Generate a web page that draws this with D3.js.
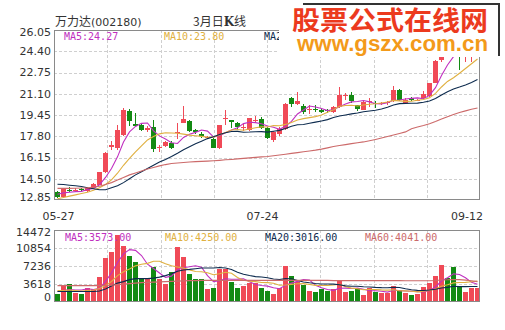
<!DOCTYPE html>
<html><head><meta charset="utf-8">
<script src="https://cdn.jsdelivr.net/npm/d3@7"></script>
<style>body{margin:0;background:#fff}svg{display:block}</style>
</head><body><svg id="c" width="505" height="330"></svg>
<script>
const title = "万力达";
const code = "(002180)";
const periodText = ["3月日", "K", "线"];
const opens  = [13.45,13.10,13.65,13.55,13.70,13.55,13.80,14.05,15.00,17.00,16.90,17.90,19.75,18.75,18.70,18.30,18.55,16.85,17.05,17.30,18.10,18.85,19.00,18.30,17.95,17.65,17.60,16.90,19.20,19.05,18.80,18.45,18.30,19.05,19.15,18.45,17.50,17.95,18.35,20.75,20.30,20.15,19.80,19.95,19.85,19.85,19.70,20.05,20.90,21.00,20.20,19.85,20.45,20.35,20.30,20.35,20.50,21.40,20.40,20.75,20.55,20.75,20.90,21.95,23.70,25.30,24.80,24.50,24.00,24.00,24.10];
const highs  = [13.55,13.80,13.85,13.80,13.80,13.85,14.20,15.05,16.60,17.40,18.70,20.00,19.90,19.60,18.80,18.60,19.10,17.10,17.45,17.45,18.80,20.15,19.10,18.40,18.10,17.85,17.70,18.70,19.80,19.10,18.90,18.80,19.25,19.40,19.30,18.50,18.20,18.50,20.35,20.85,21.25,20.30,20.20,20.20,20.00,19.95,20.15,21.60,21.15,21.20,20.25,20.50,20.80,20.50,20.45,20.55,21.70,21.45,20.75,20.85,20.70,21.35,21.95,23.70,25.90,25.60,25.10,24.70,24.60,24.50,24.70];
const lows   = [13.00,13.00,13.45,13.45,13.50,13.50,13.75,14.00,14.95,16.75,16.70,17.80,18.60,18.50,18.20,18.15,16.60,16.60,16.95,16.80,17.55,18.80,18.15,18.00,17.70,17.55,16.85,16.80,18.70,18.45,18.40,18.20,18.20,18.90,18.35,17.60,17.35,17.80,18.30,20.10,20.25,19.50,19.50,19.70,19.60,19.60,19.60,20.00,20.60,20.40,19.75,19.80,20.10,20.00,20.20,20.25,20.45,20.55,20.35,20.55,20.50,20.70,20.85,21.90,23.60,24.50,24.10,22.95,23.60,23.60,24.05];
const closes = [13.10,13.70,13.55,13.65,13.60,13.80,14.10,15.00,16.50,17.10,18.30,19.85,18.95,18.60,18.30,18.45,16.80,17.00,17.35,16.90,18.15,19.15,18.20,18.10,17.80,17.75,16.90,18.65,19.25,18.90,18.55,18.55,19.20,19.10,18.45,17.65,18.10,18.40,20.30,20.30,20.55,19.65,19.95,19.90,19.70,19.75,20.10,21.00,21.00,20.50,19.90,20.45,20.50,20.30,20.35,20.45,21.40,20.60,20.65,20.60,20.65,21.05,21.90,23.65,25.30,24.75,24.30,24.05,24.35,24.25,24.40];
const volumes = [1620,3450,3650,1760,1550,2900,2630,4940,8750,9970,13440,11260,9220,8000,4810,4670,6980,4670,3650,6030,11050,9020,5690,4610,4540,2630,2900,6640,6640,3990,2770,3250,3790,3790,2910,2230,1620,2770,7190,5150,3990,3450,2230,1960,2630,2290,2630,4270,2090,2290,2770,1410,2770,2090,1760,1890,3250,2430,1760,1410,1550,3040,3790,5300,7400,4810,6980,3110,2090,2770,2910];

const ma5Head  = [13.30,13.40,13.45,13.50];
const ma10Head = [12.95,13.05,13.15,13.25,13.35,13.45,13.60,13.80,14.05];
const ma20Head = [14.07,14.05,14.00,13.96,13.90,13.80,13.72,13.65,13.65,13.80,13.95,14.20,14.50,14.80,15.05,15.30,15.55,15.80,16.00];
const ma60Head = [13.75,13.75,13.75,13.76,13.78,13.80,13.85,13.92,14.05,14.20,14.40,14.60,14.80,14.95,15.10,15.25,15.38,15.50,15.60,15.68,15.72,15.76,15.80,15.83,15.85,15.87,15.90,15.93,15.97,16.00,16.04,16.08,16.12,16.16,16.20,16.23,16.28,16.34,16.40,16.47,16.53,16.60,16.66,16.72,16.80,16.90,17.00,17.08,17.15,17.23,17.30,17.36,17.45,17.55,17.66,17.78,17.90,18.02,18.14];
const vma5Head  = [2100,2300,2500,2400];
const vma10Head = [2300,2300,2400,2300,2200,2300,2400,2700,3300];
const vma20Head = [2100,2100,2100,2100,2100,2100,2100,2200,2600,3200,3800,4100,4500,4700,4700,4700,4800,5000,5300];
const vma60Head = [3300,3300,3300,3300,3300,3300,3300,3300,3350,3400,3500,3600,3700,3800,3900,3950,4000,4050,4100,4150,4200,4250,4300,4300,4350,4350,4350,4350,4350,4350,4350,4350,4350,4350,4350,4350,4350,4350,4350,4350,4350,4350,4350,4350,4350,4350,4300,4300,4300,4300,4300,4300,4300,4300,4300,4300,4300,4300,4280];

// the price MA20 legend is partly hidden and MA60 fully hidden behind the watermark in the reference
const priceMaText = ["MA5:24.27","MA10:23.80","MA20:22.20"];
const volMaText   = ["MA5:3573.00","MA10:4250.00","MA20:3016.00","MA60:4041.00"];
const maColors = ["#c030c0","#e0b040","#0d2b4e","#cc6a6a"];
const priceTicks = [26.05,24.40,22.75,21.10,19.45,17.80,16.15,14.50,12.85];
const volTicks = [14472,10854,7236,3618,0];
const dateLabels = ["05-27","07-24","09-12"];
const dateIdx = [0,34,70];
const wmTitle = "股票公式在线网";
const wmUrl = "www.gszx.com.cn";

const RED = "#f04a57", GREEN = "#138a13";
const L = 54, R = 480, PT = 30, PB = 200, VT = 230, VB = 302;
const svg = d3.select("#c");
const n = closes.length;
const x = d3.scaleBand().domain(d3.range(n)).range([L + 1, R + 1]);
const yP = d3.scaleLinear().domain([12.85, 26.05]).range([PB, PT]);
const yV = d3.scaleLinear().domain([0, 14472]).range([VB, VT]);
const cx = i => x(i) + 2.5;

function ma(data, p, head) {
  return data.map((d, i) => i < p - 1 ? head[i] : d3.mean(data.slice(i - p + 1, i + 1)));
}
const priceMA = [ma(closes,5,ma5Head), ma(closes,10,ma10Head), ma(closes,20,ma20Head), ma(closes,60,ma60Head)];
const volMA = [ma(volumes,5,vma5Head), ma(volumes,10,vma10Head), ma(volumes,20,vma20Head), ma(volumes,60,vma60Head)];

const defs = svg.append("defs");
defs.append("clipPath").attr("id","cp").append("rect").attr("x",L).attr("y",PT).attr("width",R-L).attr("height",PB-PT);
defs.append("clipPath").attr("id","cv").append("rect").attr("x",L).attr("y",VT).attr("width",R-L).attr("height",VB-VT);
defs.append("clipPath").attr("id","cl").append("rect").attr("x",0).attr("y",0).attr("width",279).attr("height",60);

// grid
const vgrid = d3.range(1, 8).map(k => L + k * (R - L) / 8);
function grid(top, bottom, ys) {
  const g = svg.append("g").attr("stroke","#cfcfcf").attr("stroke-dasharray","3,2").attr("shape-rendering","crispEdges");
  vgrid.forEach(v => g.append("line").attr("x1",Math.round(v)+0.5).attr("x2",Math.round(v)+0.5).attr("y1",top).attr("y2",bottom));
  ys.forEach(v => g.append("line").attr("x1",L).attr("x2",R).attr("y1",Math.round(v)+0.5).attr("y2",Math.round(v)+0.5));
}
grid(PT, PB, priceTicks.slice(1, -1).map(yP));
grid(VT, VB, volTicks.slice(1, -1).map(yV));

// y labels
const lab = svg.append("g").attr("font-family","DejaVu Sans, sans-serif").attr("font-size",11).attr("fill","#333").attr("text-anchor","end");
priceTicks.forEach(t => lab.append("text").attr("x",51).attr("y",Math.min(Math.max(yP(t),32),197)).attr("dy","0.35em").text(t.toFixed(2)));
volTicks.forEach(t => lab.append("text").attr("x",51).attr("y",Math.min(Math.max(yV(t),232),297)).attr("dy","0.35em").text(t));
// x labels
dateLabels.forEach((d, k) => {
  const i = dateIdx[k];
  const last = k === dateLabels.length - 1;
  svg.append("text").attr("x", last ? x(i) + 8 : cx(i) + 1).attr("y",220)
    .attr("text-anchor", last ? "end" : "middle").attr("font-family","DejaVu Sans, sans-serif").attr("font-size",11).attr("fill","#333").text(d);
});

// candles
const gc = svg.append("g").attr("clip-path","url(#cp)").attr("shape-rendering","crispEdges");
d3.range(n).forEach(i => {
  const up = closes[i] >= opens[i];
  const col = up ? RED : GREEN;
  gc.append("line").attr("x1",cx(i)).attr("x2",cx(i)).attr("y1",yP(highs[i])).attr("y2",yP(lows[i])).attr("stroke",col);
  const t = yP(Math.max(opens[i], closes[i])), b = yP(Math.min(opens[i], closes[i]));
  gc.append("rect").attr("x",x(i)).attr("y",t).attr("width",5).attr("height",Math.max(1,b-t)).attr("fill",col);
});
// volume bars
const gv = svg.append("g").attr("clip-path","url(#cv)").attr("shape-rendering","crispEdges");
d3.range(n).forEach(i => {
  const col = closes[i] >= opens[i] ? RED : GREEN;
  gv.append("rect").attr("x",x(i)).attr("y",yV(volumes[i])).attr("width",5).attr("height",VB - yV(volumes[i])).attr("fill",col);
});

// MA lines
const lp = d3.line().x((d,i) => cx(i)).y(d => yP(d));
const lv = d3.line().x((d,i) => cx(i)).y(d => yV(d));
priceMA.forEach((s, k) => svg.append("path").attr("clip-path","url(#cp)").attr("d", lp(s)).attr("fill","none").attr("stroke",maColors[k]).attr("stroke-width",1.1));
volMA.forEach((s, k) => svg.append("path").attr("clip-path","url(#cv)").attr("d", lv(s)).attr("fill","none").attr("stroke",maColors[k]).attr("stroke-width",1.1));

// borders
[[PT,PB],[VT,VB]].forEach(([t,b]) => svg.append("rect").attr("x",L+0.5).attr("y",t+0.5).attr("width",R-L-1).attr("height",b-t-1)
  .attr("fill","none").attr("stroke","#8a8a8a").attr("shape-rendering","crispEdges"));

// MA legends
const lg = svg.append("g").attr("font-family","DejaVu Sans Mono, monospace").attr("font-size",10);
priceMaText.forEach((t,k) => lg.append("text").attr("x",64 + k*100).attr("y",40).attr("fill",maColors[k])
  .attr("clip-path", k === 2 ? "url(#cl)" : null).text(k === 2 ? t.slice(0, 3) : t));
volMaText.forEach((t,k) => lg.append("text").attr("x",65 + k*100).attr("y",241).attr("fill",maColors[k]).text(t));

// title
const tt = svg.append("text").attr("x",55).attr("y",26).attr("fill","#333").attr("font-family","Noto Sans CJK SC, sans-serif").attr("font-size",12);
tt.append("tspan").text(title);
tt.append("tspan").attr("font-family","DejaVu Sans, sans-serif").attr("font-size",11).text(code);
const pt = svg.append("text").attr("x",193).attr("y",26).attr("fill","#333").attr("font-family","Noto Sans CJK SC, sans-serif").attr("font-size",12);
pt.append("tspan").text(periodText[0]);
pt.append("tspan").attr("font-weight","bold").attr("font-family","DejaVu Serif, serif").text(periodText[1]);
pt.append("tspan").text(periodText[2]);

// watermark
svg.append("rect").attr("x",279).attr("y",2).attr("width",221).attr("height",55).attr("fill","#fff");
svg.append("rect").attr("x",303).attr("y",3).attr("width",197).attr("height",2).attr("fill","#333");
svg.append("rect").attr("x",498).attr("y",3).attr("width",2).attr("height",53).attr("fill","#333");
svg.append("text").attr("x",292).attr("y",30).attr("font-family","Noto Sans CJK SC, sans-serif").attr("font-weight","bold")
  .attr("font-size",26).attr("fill","#ec3a1e").attr("textLength",196).attr("lengthAdjust","spacingAndGlyphs").text(wmTitle);
svg.append("text").attr("x",297).attr("y",51).attr("font-family","Liberation Sans, Arial, sans-serif").attr("font-weight","bold")
  .attr("font-size",22).attr("fill","#f39a1a").attr("textLength",191).attr("lengthAdjust","spacingAndGlyphs").text(wmUrl);
</script></body></html>
